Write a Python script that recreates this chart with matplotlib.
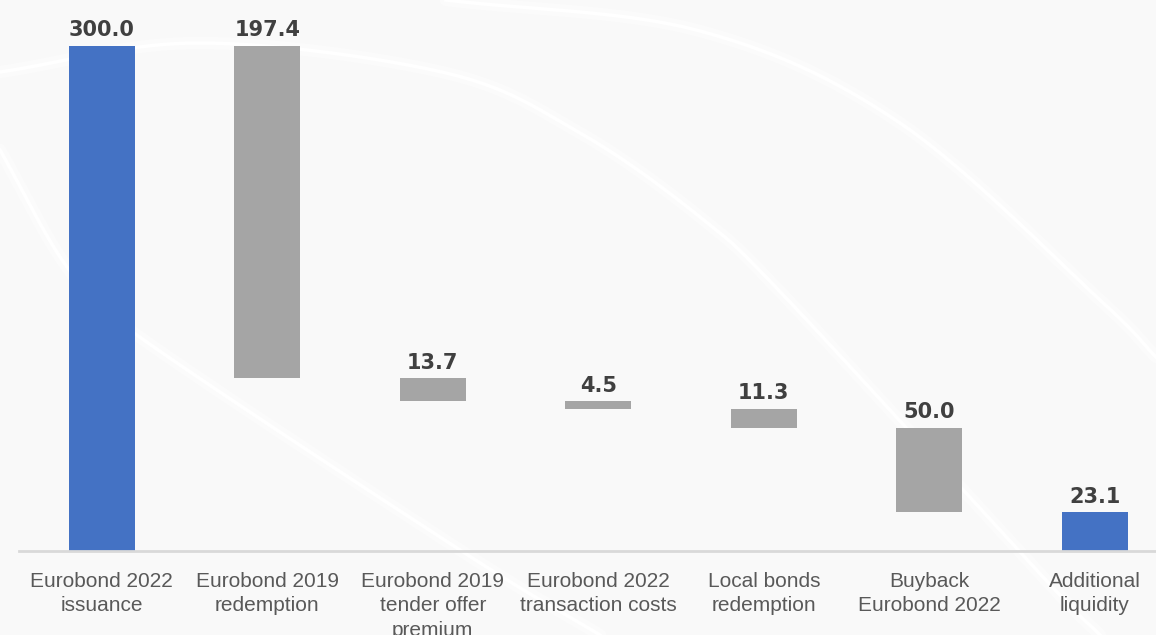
import matplotlib.pyplot as plt
import numpy as np

categories = ["Eurobond 2022\nissuance", "Eurobond 2019\nredemption",
              "Eurobond 2019\ntender offer\npremium", "Eurobond 2022\ntransaction costs",
              "Local bonds\nredemption", "Buyback\nEurobond 2022", "Additional\nliquidity"]
values = [300.0, -197.4, -13.7, -4.5, -11.3, -50.0, 23.1]
is_total = [True, False, False, False, False, False, True]

BLUE = "#4472C4"
GREY = "#A5A5A5"
BG = "#F9F9F9"


def smooth(px, py, n=40):
    # catmull-rom through the given points
    p = np.column_stack([px, py]).astype(float)
    p = np.vstack([2 * p[0] - p[1], p, 2 * p[-1] - p[-2]])
    out = []
    t = np.linspace(0, 1, n)[:, None]
    for i in range(1, len(p) - 2):
        p0, p1, p2, p3 = p[i - 1], p[i], p[i + 1], p[i + 2]
        out.append(0.5 * (2 * p1 + (-p0 + p2) * t + (2 * p0 - 5 * p1 + 4 * p2 - p3) * t ** 2
                          + (-p0 + 3 * p1 - 3 * p2 + p3) * t ** 3))
    out = np.vstack(out)
    return out[:, 0], out[:, 1]


fig = plt.figure(figsize=(11.56, 6.35), dpi=100, facecolor=BG)

# faint white swooshes of the slide background (pixel coords)
bg = fig.add_axes([0, 0, 1, 1], zorder=0)
bg.set_xlim(0, 1156)
bg.set_ylim(635, 0)
bg.axis("off")
swooshes = [
    ([0, 200, 446, 580, 700, 788, 1043, 1100], [72, 43, 73, 133, 217, 300, 577, 635]),
    ([446, 700, 900, 1100, 1156], [0, 31, 123, 300, 357]),
    ([0, 67, 134, 460, 600], [150, 267, 333, 550, 635]),
]
for sx, sy in swooshes:
    xx, yy = smooth(sx, sy)
    bg.plot(xx, yy, color="white", lw=9, alpha=0.35, solid_capstyle="round")
    bg.plot(xx, yy, color="white", lw=2.5, alpha=1.0)

ax = fig.add_axes([19 / 1156, 1 - 551 / 635, 1 - 19 / 1156, (551 - 15.6) / 635], zorder=1)
ax.patch.set_alpha(0)

x = np.arange(len(values))
running = 0.0
for i, v in enumerate(values):
    if is_total[i]:
        bottom, height, top = 0, v, v
        color = BLUE
        running = v
    else:
        bottom, height = running + v, -v
        top = running
        color = GREY
        running = running + v
    ax.bar(x[i], height, bottom=bottom, width=0.4, color=color, zorder=2)
    ax.annotate(f"{abs(v):.1f}", (x[i], top), xytext=(0, 4), textcoords="offset points",
                ha="center", va="bottom", fontsize=15, fontweight="bold", color="#404040",
                family="DejaVu Sans")

ax.set_xlim(-0.5, 6.37)
ax.set_ylim(0, 318)
ax.set_yticks([])
ax.set_xticks(x)
ax.set_xticklabels(categories, fontsize=15, color="#595959", family="Liberation Sans",
                   linespacing=1.37)
ax.tick_params(axis="x", length=0, pad=15)
for s in ["top", "right", "left"]:
    ax.spines[s].set_visible(False)
ax.spines["bottom"].set_color("#D9D9D9")
ax.spines["bottom"].set_linewidth(2)

fig.savefig("out.png", dpi=100, facecolor=BG)
